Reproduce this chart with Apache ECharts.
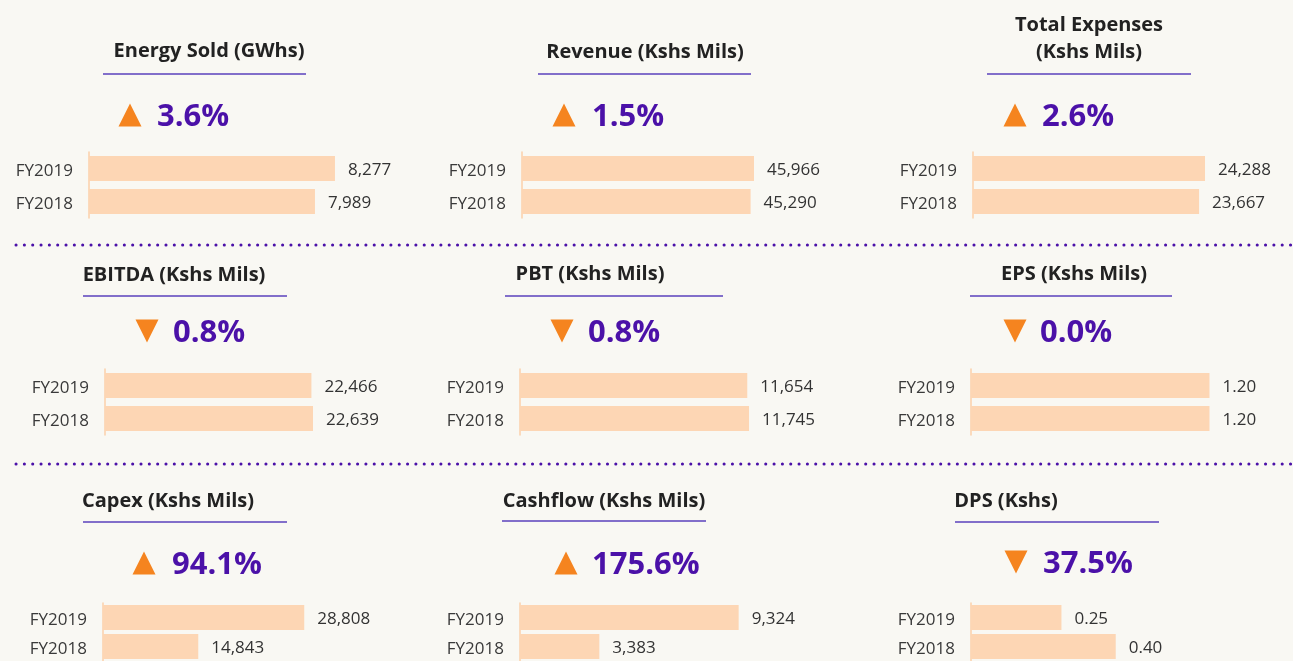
<!DOCTYPE html>
<html>
<head>
<meta charset="utf-8">
<title>Key figures FY2019 vs FY2018</title>
<script src="https://cdn.jsdelivr.net/npm/echarts@6/dist/echarts.min.js"></script>
<style>
  html, body { margin: 0; padding: 0; background: #f9f8f3; }
  #main { width: 1293px; height: 661px; }
</style>
</head>
<body>
<div id="main"></div>
<script>
// data
const titles = ['Energy Sold (GWhs)', 'Revenue (Kshs Mils)', 'Total Expenses\n(Kshs Mils)',
  'EBITDA (Kshs Mils)', 'PBT (Kshs Mils)', 'EPS (Kshs Mils)',
  'Capex (Kshs Mils)', 'Cashflow (Kshs Mils)', 'DPS (Kshs)']
const categories = ['FY2019', 'FY2018']
const fy2019 = [8277, 45966, 24288, 22466, 11654, 1.20, 28808, 9324, 0.25]
const fy2018 = [7989, 45290, 23667, 22639, 11745, 1.20, 14843, 3383, 0.40]
const changes = ['3.6%', '1.5%', '2.6%', '0.8%', '0.8%', '0.0%', '94.1%', '175.6%', '37.5%']
const direction = ['up', 'up', 'up', 'down', 'down', 'down', 'up', 'up', 'down']

// layout of each panel (px)
const gridLeft = [89, 522, 973, 105, 520, 971, 103, 520, 971]
const gridTop = [152, 152, 152, 369, 369, 369, 603, 603, 603]
const axisMin = [4735, 0, 0, 0, 0, 0, 2290, 0, 0]
const axisMax = [8335, 49530, 26170, 27210, 12820, 1.258, 35230, 10660, 0.691]
const titlePos = [[209, 51], [645, 52], [1089, 39], [174, 275], [590, 274], [1074, 274],
  [168, 501], [604, 501], [1006, 501]]
const underline = [[103, 306, 74], [538, 751, 74], [987, 1191, 74], [83, 287, 296],
  [505, 723, 296], [970, 1172, 296], [83, 287, 522], [502, 706, 521], [955, 1159, 522]]
const triPos = [[130, 115], [564, 115], [1015, 115], [147, 331], [562, 331], [1015, 331],
  [144, 563], [566, 563], [1016, 562]]
const pctX = [157, 592, 1042, 173, 588, 1040, 172, 592, 1043]

const FONT = '"Open Sans", "Noto Sans", sans-serif'
const PURPLE = '#4b11a8'
const ORANGE = '#f5841f'
const BAR = '#fdd6b4'

function fmt (v) {
  return v < 10 ? v.toFixed(2) : v.toLocaleString('en-US')
}

let myChart = echarts.init(document.getElementById('main'))

let grids = []
let xAxes = []
let yAxes = []
let series = []
let graphic = []

for (let i = 0; i < titles.length; i++) {
  grids.push({ left: gridLeft[i], top: gridTop[i], width: 250, height: 66 })
  xAxes.push({
    type: 'value', gridIndex: i, min: axisMin[i], max: axisMax[i], show: false
  })
  yAxes.push({
    type: 'category', gridIndex: i, inverse: true, data: categories,
    axisLine: { show: true, lineStyle: { color: '#fbd0aa', width: 1.5 } },
    axisTick: { show: false },
    axisLabel: {
      margin: 16,
      formatter: v => '{l|' + v + '}',
      rich: {
        l: { fontSize: 17, color: '#3a3a3a', fontFamily: FONT, padding: [5, 0, 0, 0] }
      }
    }
  })
  series.push({
    type: 'bar', xAxisIndex: i, yAxisIndex: i, barWidth: 25,
    data: [fy2019[i], fy2018[i]],
    itemStyle: { color: BAR },
    label: {
      show: true, position: 'right', distance: 13, fontSize: 17,
      color: '#333', fontFamily: FONT, offset: [0, 2],
      formatter: p => fmt(p.value)
    },
    silent: true
  })

  // title + underline
  graphic.push({
    type: 'text', x: titlePos[i][0], y: titlePos[i][1],
    style: {
      text: titles[i], fill: '#222', fontSize: 20, fontWeight: 'bold', fontFamily: FONT,
      align: 'center', verticalAlign: 'middle', textAlign: 'center', textVerticalAlign: 'middle',
      lineHeight: 27
    }
  })
  graphic.push({
    type: 'line',
    shape: { x1: underline[i][0], y1: underline[i][2], x2: underline[i][1], y2: underline[i][2] },
    style: { stroke: '#5a42bd', lineWidth: 1.5 }
  })

  // arrow
  let cx = triPos[i][0]
  let cy = triPos[i][1]
  let pts = direction[i] === 'up'
    ? [[cx - 11.5, cy + 11.5], [cx + 11.5, cy + 11.5], [cx, cy - 11.5]]
    : [[cx - 11.5, cy - 11.5], [cx + 11.5, cy - 11.5], [cx, cy + 11.5]]
  graphic.push({ type: 'polygon', shape: { points: pts }, style: { fill: ORANGE } })

  // percentage
  graphic.push({
    type: 'text', x: pctX[i], y: triPos[i][1] + 2,
    style: {
      text: changes[i], fill: PURPLE, fontSize: 31, fontWeight: 'bold', fontFamily: FONT,
      align: 'left', verticalAlign: 'middle', textAlign: 'left', textVerticalAlign: 'middle'
    }
  })
}

// dotted separators
;[245, 464].forEach(y => {
  graphic.push({
    type: 'line',
    shape: { x1: 16, y1: y, x2: 1293, y2: y },
    style: { stroke: PURPLE, lineWidth: 3, lineDash: [0.1, 8.23], lineCap: 'round' }
  })
})

myChart.setOption({
  backgroundColor: '#f9f8f3',
  animation: false,
  grid: grids,
  xAxis: xAxes,
  yAxis: yAxes,
  series: series,
  graphic: graphic
})
</script>
</body>
</html>
